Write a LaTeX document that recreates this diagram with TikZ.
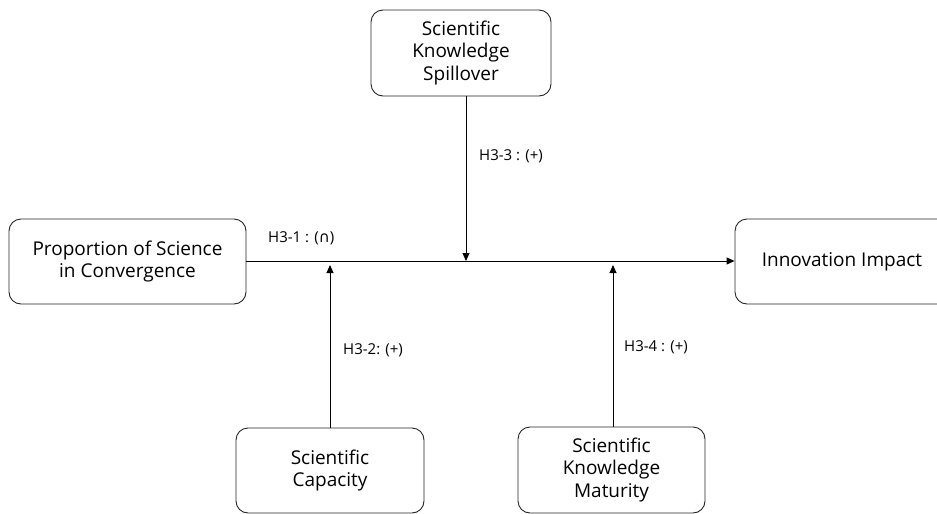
\documentclass[tikz,border=0pt]{standalone}
\usepackage{fontspec}
\setmainfont{Open Sans}
\newfontfamily\symfont{DejaVu Sans}
\usetikzlibrary{arrows.meta}
\begin{document}
\begin{tikzpicture}[x=1pt,y=-1pt,
  box/.style={draw=black!85, line width=0.9pt, rounded corners=12pt, align=center,
    font=\fontsize{19}{22.5}\selectfont, inner sep=0pt},
  conn/.style={line width=0.9pt, -{Triangle[width=7pt,length=8pt]}},
  lbl/.style={font=\fontsize{15}{17}\selectfont, anchor=base west, inner sep=0pt}]
\useasboundingbox (0,0) rectangle (937,514);
\node[box, minimum width=237pt, minimum height=85pt] (psc) at (127.5,261.5) {Proportion of Science\\in Convergence};
\node[box, minimum width=180pt, minimum height=86pt] (skp) at (461,53) {Scientific\\Knowledge\\Spillover};
\node[box, minimum width=214pt, minimum height=85pt] (ii) at (842,261.5) {Innovation Impact};
\node[box, minimum width=188pt, minimum height=85pt] (sc) at (330,470.5) {Scientific\\Capacity};
\node[box, minimum width=187pt, minimum height=86pt] (skm) at (611.5,470) {Scientific\\Knowledge\\Maturity};
\coordinate (j3) at (466,261);
\coordinate (j2) at (330,265);
\coordinate (j4) at (613,265);
\draw[conn] (psc.east |- 0,261) -- (ii.west |- 0,261);
\draw[conn] (skp.south -| j3) -- (j3);
\draw[conn] (sc.north -| j2) -- (j2);
\draw[conn] (skm.north -| j4) -- (j4);
\node[lbl] (l1) at (268,242) {H3-1 : ({\symfont ∩})};
\node[lbl] (l3) at (479,160) {H3-3 : (+)};
\node[lbl] (l2) at (343,354) {H3-2: (+)};
\node[lbl] (l4) at (624,351) {H3-4 : (+)};
\end{tikzpicture}
\end{document}
